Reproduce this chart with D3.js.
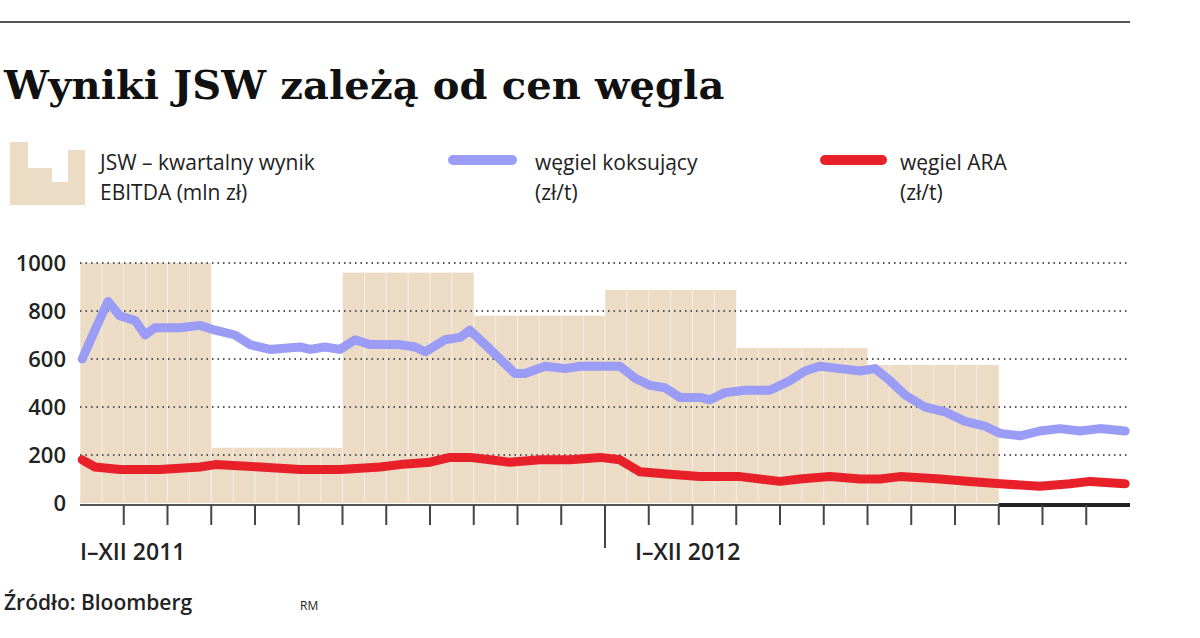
<!DOCTYPE html>
<html><head><meta charset="utf-8">
<script src="https://cdn.jsdelivr.net/npm/d3@7"></script>
<style>body{margin:0;background:#fff}svg{display:block}</style>
</head><body><div id="chart"></div>
<script>
// quarterly EBITDA (mln zł), Q1 2011 .. Q4 2012
const quarters = ["I kw. 2011","II kw. 2011","III kw. 2011","IV kw. 2011","I kw. 2012","II kw. 2012","III kw. 2012","IV kw. 2012"];
const ebitda = [1000, 230, 960, 780, 888, 646, 575, 0];

// weekly-ish readings, position in months since Jan 2011
const cokingMonths = [0.05,0.34,0.64,0.91,1.26,1.49,1.71,2.29,2.74,3.09,3.54,3.89,4.34,5.03,5.26,5.6,5.94,6.29,6.63,7.31,7.66,7.89,8.34,8.69,8.91,9.26,9.6,9.94,10.17,10.63,11.09,11.43,11.89,12.34,12.69,13.03,13.37,13.71,14.17,14.4,14.74,15.2,15.77,16.23,16.57,16.91,17.37,17.83,18.17,18.51,18.86,19.31,19.77,20.23,20.69,21.03,21.49,21.94,22.4,22.86,23.31,23.89];
const coking = [600,720,840,780,760,700,730,730,740,720,700,660,640,650,640,650,640,680,660,660,650,630,680,690,720,660,600,540,540,570,560,570,570,570,520,490,480,440,440,430,460,470,470,510,550,570,560,550,560,510,450,400,380,340,320,290,280,300,310,300,310,300];
const araMonths = [0.05,0.34,0.91,1.83,2.74,3.09,4.11,5.03,5.94,6.86,7.31,8.0,8.46,8.91,9.37,9.83,10.51,11.2,11.89,12.34,12.8,13.49,14.17,15.09,16.0,16.46,17.14,17.83,18.29,18.74,19.66,20.34,21.03,21.94,22.63,23.09,23.89];
const ara = [180,150,140,140,150,160,150,140,140,150,160,170,190,190,180,170,180,180,190,180,130,120,110,110,90,100,110,100,100,110,100,90,80,70,80,90,80];

const yTicks = [0, 200, 400, 600, 800, 1000];
const yearLabels = ["I–XII 2011", "I–XII 2012"];

const W = 1200, H = 638;
const svg = d3.select("#chart").append("svg").attr("width", W).attr("height", H)
  .style("font-family", "'Open Sans', sans-serif");

const x = d3.scaleLinear().domain([0, 24]).range([80, 1130]);
const y = d3.scaleLinear().domain([0, 1000]).range([503, 263]);

// header
svg.append("line").attr("x1", 0).attr("x2", 1130).attr("y1", 22).attr("y2", 22).attr("stroke", "#555").attr("stroke-width", 2);
svg.append("text").attr("x", 4).attr("y", 99).text("Wyniki JSW zależą od cen węgla")
  .style("font-family", "'DejaVu Serif', serif").attr("font-weight", "bold").attr("font-size", 40)
  .attr("letter-spacing", -0.3).attr("textLength", 720).attr("fill", "#111");

// legend
svg.append("path").attr("d", "M10,142H28V168H52V182H68V150H85V205H10Z").attr("fill", "#ecdcc6");
const leg = svg.append("g").attr("font-size", 21).attr("fill", "#222");
leg.append("text").attr("x", 100).attr("y", 170).text("JSW – kwartalny wynik");
leg.append("text").attr("x", 100).attr("y", 200).text("EBITDA (mln zł)");
svg.append("line").attr("x1", 453).attr("x2", 512).attr("y1", 160).attr("y2", 160).attr("stroke", "#9a9cf5").attr("stroke-width", 10).attr("stroke-linecap", "round");
leg.append("text").attr("x", 535).attr("y", 170).text("węgiel koksujący");
leg.append("text").attr("x", 535).attr("y", 200).text("(zł/t)");
svg.append("line").attr("x1", 825).attr("x2", 882).attr("y1", 160).attr("y2", 160).attr("stroke", "#e8202a").attr("stroke-width", 10).attr("stroke-linecap", "round");
leg.append("text").attr("x", 900).attr("y", 170).text("węgiel ARA");
leg.append("text").attr("x", 900).attr("y", 200).text("(zł/t)");

// bars
svg.append("g").selectAll("rect").data(ebitda).join("rect")
  .attr("x", (d, i) => x(i * 3)).attr("width", x(3) - x(0))
  .attr("y", d => y(d)).attr("height", d => y(0) - y(d)).attr("fill", "#ecdcc6");
// thin weekly stripes inside bars
const stripes = d3.range(0, 24, 0.5);
svg.append("g").selectAll("line").data(stripes).join("line")
  .attr("x1", d => x(d)).attr("x2", d => x(d))
  .attr("y1", d => y(ebitda[Math.floor(d / 3)])).attr("y2", y(0))
  .attr("stroke", "#fff").attr("stroke-opacity", 0.5).attr("stroke-width", 1);

// grid + y labels
svg.append("g").selectAll("line").data(yTicks.filter(d => d > 0)).join("line")
  .attr("x1", 80).attr("x2", 1130).attr("y1", d => y(d)).attr("y2", d => y(d))
  .attr("stroke", "#555").attr("stroke-width", 2).attr("stroke-dasharray", "1.5,4");
svg.append("g").selectAll("text").data(yTicks).join("text")
  .attr("x", 66).attr("y", d => y(d) + 8).attr("text-anchor", "end")
  .attr("font-size", 22).attr("font-weight", 600).attr("fill", "#222").text(d => d);

// lines
const line = (xs) => d3.line().x((d, i) => x(xs[i])).y(d => y(d));
svg.append("path").datum(coking).attr("d", line(cokingMonths)).attr("fill", "none")
  .attr("stroke", "#9a9cf5").attr("stroke-width", 9).attr("stroke-linejoin", "round").attr("stroke-linecap", "round");
svg.append("path").datum(ara).attr("d", line(araMonths)).attr("fill", "none")
  .attr("stroke", "#e8202a").attr("stroke-width", 9).attr("stroke-linejoin", "round").attr("stroke-linecap", "round");

// x axis
svg.append("line").attr("x1", 80).attr("x2", 1130).attr("y1", 505).attr("y2", 505).attr("stroke", "#555").attr("stroke-width", 2);
svg.append("line").attr("x1", x(21)).attr("x2", 1130).attr("y1", 505).attr("y2", 505).attr("stroke", "#222").attr("stroke-width", 4);
svg.append("g").selectAll("line").data(d3.range(1, 24)).join("line")
  .attr("x1", d => x(d)).attr("x2", d => x(d)).attr("y1", 505).attr("y2", d => d === 12 ? 548 : 525)
  .attr("stroke", "#444").attr("stroke-width", 2);
svg.append("g").selectAll("text").data(yearLabels).join("text")
  .attr("x", (d, i) => x(i * 12) + (i ? 30 : 0)).attr("y", 560)
  .attr("font-size", 23).attr("font-weight", 600).attr("fill", "#222").text(d => d);

// source
svg.append("text").attr("x", 4).attr("y", 610).attr("font-size", 21).attr("font-weight", 600).attr("fill", "#222").text("Źródło: Bloomberg");
svg.append("text").attr("x", 300).attr("y", 610).attr("font-size", 12).attr("fill", "#222").text("RM");
</script></body></html>
